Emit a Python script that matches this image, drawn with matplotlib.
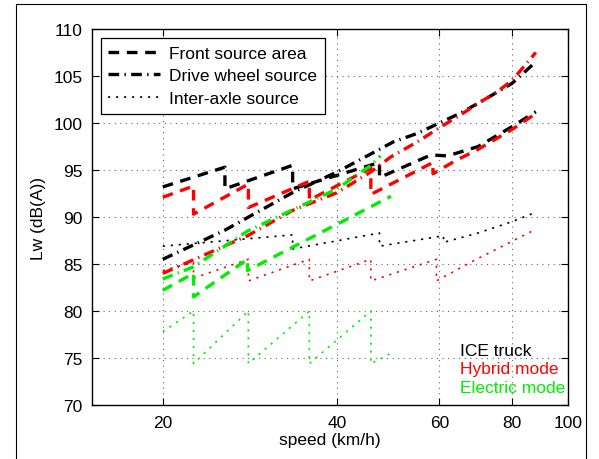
import matplotlib
matplotlib.use("Agg")
import matplotlib.pyplot as plt
from matplotlib.lines import Line2D
from matplotlib.patches import Rectangle
from matplotlib.ticker import FixedLocator, NullLocator, FixedFormatter

plt.rcParams['font.family'] = ['Liberation Sans', 'DejaVu Sans']

# ---------------- data (speed km/h, Lw dB(A)) ----------------
# ICE truck (black)
ice_front_v = [20, 25.6, 25.6, 33.5, 33.5, 47.3, 47.3, 58, 62, 70, 80, 88]
ice_front_L = [93.2, 95.3, 93.0, 95.5, 93.0, 95.8, 94.2, 96.6, 96.5, 97.5, 99.6, 101.2]
ice_drive_v = [20, 25.6, 33.5, 40, 47.3, 50, 55, 60, 65, 70, 80, 88]
ice_drive_L = [85.5, 88.6, 92.6, 94.8, 97.2, 98.0, 98.9, 100.0, 101.0, 102.1, 104.2, 106.5]
ice_inter_v = [20, 33.5, 33.5, 47.3, 47.3, 61, 61, 70, 80, 88]
ice_inter_L = [86.9, 88.1, 86.6, 88.3, 86.9, 88.0, 87.3, 88.3, 89.5, 90.5]

# Hybrid mode (red)
hyb_front_v = [20, 22.6, 22.6, 28.1, 28.1, 35.8, 35.8, 45.7, 45.7, 58.5, 58.5, 64, 70, 80, 88]
hyb_front_L = [92.1, 93.3, 90.3, 93.5, 91.0, 93.8, 91.8, 95.2, 92.4, 95.8, 94.6, 96.0, 97.2, 99.3, 101.0]
hyb_drive_v = [20, 28, 33.5, 40, 45.7, 49.5, 55, 60, 65, 70, 75, 80, 88]
hyb_drive_L = [84.0, 88.0, 90.7, 92.6, 94.8, 96.4, 98.0, 99.5, 100.8, 102.1, 103.2, 104.5, 107.5]
hyb_inter_v = [20, 22.6, 22.6, 28.1, 28.1, 35.8, 35.8, 45.7, 45.7, 59.3, 59.3, 69, 88]
hyb_inter_L = [84.3, 85.2, 83.5, 85.5, 83.2, 85.5, 83.2, 85.5, 83.2, 85.5, 83.2, 85.4, 88.7]

# Electric mode (green)
ele_front_v = [20, 22.6, 22.6, 28, 28, 49.5]
ele_front_L = [82.2, 84.0, 81.5, 85.5, 84.3, 92.2]
ele_drive_v = [20, 22.6, 28, 35.8, 40, 45.7, 47.5]
ele_drive_L = [83.4, 84.7, 88.5, 91.6, 93.0, 95.5, 96.5]
ele_inter_v = [20, 22.6, 22.6, 28.1, 28.1, 35.8, 35.8, 45.7, 45.7, 49.5]
ele_inter_L = [77.8, 80.0, 74.4, 80.0, 74.4, 80.0, 74.4, 80.0, 74.4, 75.5]

x_ticks = [20, 40, 60, 80, 100]
y_ticks = [70, 75, 80, 85, 90, 95, 100, 105, 110]
legend_labels = ["Front source area", "Drive wheel source", "Inter-axle source"]
mode_labels = ["ICE truck", "Hybrid mode", "Electric mode"]
mode_colors = ["black", "#ff0000", "#00ee00"]

# ---------------- styles ----------------
DASH = dict(lw=2.4, dashes=(3.2, 2.3))
DASHDOT = dict(lw=2.4, dashes=(3.2, 1.6, 0.4, 1.6))
DOT = dict(lw=1.2, dashes=(1.3, 3.5))

fig = plt.figure(figsize=(5.99, 4.60), dpi=100)
ax = fig.add_axes([92/599, 1-406/460, 476/599, 376/460])

series = [
    (ice_front_v, ice_front_L, DASH, mode_colors[0]),
    (ice_drive_v, ice_drive_L, DASHDOT, mode_colors[0]),
    (ice_inter_v, ice_inter_L, DOT, mode_colors[0]),
    (hyb_front_v, hyb_front_L, DASH, mode_colors[1]),
    (hyb_drive_v, hyb_drive_L, DASHDOT, mode_colors[1]),
    (hyb_inter_v, hyb_inter_L, DOT, mode_colors[1]),
    (ele_front_v, ele_front_L, DASH, mode_colors[2]),
    (ele_drive_v, ele_drive_L, DASHDOT, mode_colors[2]),
    (ele_inter_v, ele_inter_L, DOT, mode_colors[2]),
]
for v, L, st, c in series:
    ax.plot(v, L, color=c, solid_capstyle='butt', dash_capstyle='butt', zorder=3, **st)

ax.set_xscale('log')
ax.set_xlim(15.1, 100)
ax.set_ylim(70, 110)
ax.xaxis.set_major_locator(FixedLocator(x_ticks))
ax.xaxis.set_major_formatter(FixedFormatter([str(t) for t in x_ticks]))
ax.xaxis.set_minor_locator(NullLocator())
ax.set_yticks(y_ticks)
ax.tick_params(direction='in', top=True, right=True, length=5, width=0.8,
               labelsize=12.5, pad=7)
ax.grid(True, which='major', color='0.4', lw=0.8, linestyle=(0, (1, 4)))
for s in ax.spines.values():
    s.set_linewidth(1.0)

ax.set_xlabel("speed (km/h)", fontsize=12.5, labelpad=2)
ax.set_ylabel("Lw (dB(A))", fontsize=12.5, labelpad=5)

handles = [Line2D([], [], color='black', **DASH),
           Line2D([], [], color='black', **DASHDOT),
           Line2D([], [], color='black', **DOT)]
leg = ax.legend(handles, legend_labels, loc='upper left', bbox_to_anchor=(0.018, 0.976),
                borderaxespad=0, fontsize=12.5, handlelength=3.0, handletextpad=0.5,
                borderpad=0.45, labelspacing=0.42, fancybox=False, framealpha=1,
                edgecolor='black')
leg.get_frame().set_linewidth(0.9)

ys = [0.133, 0.085, 0.035]
for lab, c, yy in zip(mode_labels, mode_colors, ys):
    ax.text(0.773, yy, lab, color=c, fontsize=12.5, transform=ax.transAxes,
            ha='left', va='baseline', zorder=5)

fig.add_artist(Rectangle((16/599, -0.05), (586-16)/599, 1.05 - 5/460,
                         transform=fig.transFigure, fill=False, edgecolor='black',
                         lw=0.8, clip_on=False))

fig.savefig("out.png", dpi=100)
